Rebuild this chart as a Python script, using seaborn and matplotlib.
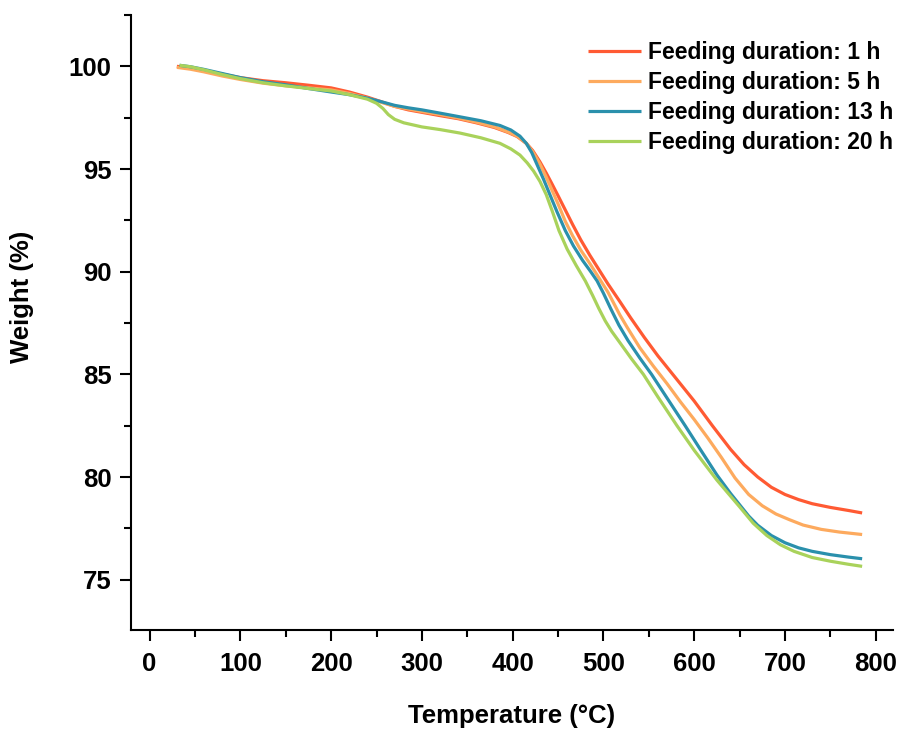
import matplotlib
matplotlib.use("Agg")
import matplotlib.pyplot as plt
import seaborn as sns
import pandas as pd
from matplotlib.ticker import MultipleLocator

# ---- data ----
labels = ["Feeding duration: 1 h", "Feeding duration: 5 h",
          "Feeding duration: 13 h", "Feeding duration: 20 h"]
colors = ["#FF5A33", "#FDAA5E", "#2A90AC", "#A9D25B"]

t_1h = [30, 45, 60, 80, 100, 125, 150, 175, 200, 220, 240, 255, 270, 285, 300, 320, 340, 360, 380,
        395, 405, 415, 422, 430, 437, 443, 450, 458, 466, 475, 485, 495, 505, 518, 530, 545, 560,
        580, 600, 620, 640, 655, 670, 685, 700, 715, 730, 750, 770, 785]
w_1h = [100.0, 99.92, 99.8, 99.62, 99.45, 99.3, 99.2, 99.08, 98.95, 98.75, 98.5, 98.28, 98.05,
        97.88, 97.76, 97.6, 97.45, 97.25, 97.02, 96.78, 96.58, 96.25, 95.9, 95.35, 94.8, 94.3,
        93.7, 93.0, 92.3, 91.55, 90.8, 90.1, 89.4, 88.55, 87.75, 86.8, 85.9, 84.8, 83.7, 82.5,
        81.35, 80.6, 80.0, 79.5, 79.15, 78.9, 78.7, 78.52, 78.37, 78.25]

t_5h = [30, 45, 60, 80, 100, 125, 150, 175, 200, 220, 240, 255, 270, 285, 300, 320, 340, 360, 380,
        395, 405, 415, 422, 430, 437, 443, 450, 458, 466, 475, 485, 495, 505, 518, 526, 540, 555,
        570, 585, 600, 615, 630, 645, 660, 675, 690, 705, 720, 740, 760, 785]
w_5h = [99.95, 99.86, 99.73, 99.53, 99.36, 99.18, 99.05, 98.95, 98.85, 98.68, 98.45, 98.25, 98.05,
        97.92, 97.8, 97.65, 97.48, 97.28, 97.05, 96.8, 96.6, 96.25, 95.85, 95.25, 94.6, 94.0,
        93.3, 92.45, 91.75, 91.05, 90.4, 89.7, 89.0, 87.9, 87.3, 86.3, 85.4, 84.55, 83.65, 82.8,
        81.9, 80.95, 79.95, 79.15, 78.6, 78.2, 77.92, 77.66, 77.45, 77.32, 77.2]

t_13h = [33, 45, 60, 80, 100, 125, 150, 175, 200, 220, 240, 255, 270, 285, 300, 320, 342, 365, 386,
         398, 408, 415, 421, 427, 434, 441, 449, 458, 467, 477, 486, 493, 500, 508, 517, 527, 540,
         553, 570, 590, 606.5, 625, 640, 650, 660, 670, 685, 700, 715, 730, 750, 770, 785]
w_13h = [100.05, 99.98, 99.85, 99.65, 99.45, 99.25, 99.1, 98.92, 98.75, 98.62, 98.45, 98.28, 98.1,
         97.98, 97.88, 97.72, 97.54, 97.35, 97.12, 96.9, 96.6, 96.25, 95.8, 95.2, 94.5, 93.75,
         92.9, 92.0, 91.25, 90.55, 90.0, 89.55, 88.95, 88.2, 87.4, 86.65, 85.8, 85.0, 83.85,
         82.5, 81.36, 80.1, 79.2, 78.65, 78.1, 77.65, 77.15, 76.8, 76.55, 76.38, 76.22, 76.1, 76.02]

t_20h = [33, 45, 60, 80, 100, 125, 150, 175, 200, 220, 240, 250, 257, 263, 270, 280, 300, 320, 342,
         365, 386, 398, 408, 416, 423, 430, 437, 444, 451, 460, 470, 480, 488, 495, 502, 509, 518,
         531, 544, 560, 581, 600, 625, 650, 665, 680, 695, 710, 730, 750, 770, 785]
w_20h = [100.05, 99.98, 99.83, 99.6, 99.4, 99.2, 99.05, 98.92, 98.8, 98.62, 98.4, 98.2, 97.95,
         97.65, 97.42, 97.25, 97.05, 96.92, 96.75, 96.52, 96.25, 95.98, 95.68, 95.3, 94.9, 94.4,
         93.75, 92.9, 92.0, 91.1, 90.3, 89.55, 88.85, 88.2, 87.6, 87.1, 86.55, 85.75, 85.0, 83.9,
         82.5, 81.3, 79.85, 78.55, 77.75, 77.15, 76.7, 76.38, 76.08, 75.9, 75.75, 75.65]

x_ticks = [0, 100, 200, 300, 400, 500, 600, 700, 800]
y_ticks = [75, 80, 85, 90, 95, 100]

frames = []
for lab, t, w in zip(labels, [t_1h, t_5h, t_13h, t_20h], [w_1h, w_5h, w_13h, w_20h]):
    frames.append(pd.DataFrame({"Temperature": t, "Weight": w, "Sample": lab}))
df = pd.concat(frames, ignore_index=True)

sns.set_style("ticks")
plt.rcParams["font.family"] = ["Liberation Sans", "DejaVu Sans"]
plt.rcParams["font.weight"] = "bold"
for k in ["text.color", "axes.labelcolor", "xtick.color", "ytick.color", "axes.edgecolor"]:
    plt.rcParams[k] = "black"

fig = plt.figure(figsize=(9.01, 7.29), dpi=100)
ax = fig.add_axes([131 / 901, 1 - 630 / 729, (893 - 131) / 901, (630 - 15) / 729])

sns.lineplot(data=df, x="Temperature", y="Weight", hue="Sample", hue_order=labels,
             palette=colors, linewidth=2.3, sort=False, estimator=None, ax=ax)
for ln in ax.get_lines():
    ln.set_solid_joinstyle("round")
    ln.set_solid_capstyle("butt")

ax.set_xlim(-20.5, 819)
ax.set_ylim(72.55, 102.5)
ax.set_xticks(x_ticks)
ax.set_yticks(y_ticks)
ax.xaxis.set_minor_locator(MultipleLocator(50))
ax.yaxis.set_minor_locator(MultipleLocator(2.5))
ax.tick_params(which="major", direction="out", length=8, width=1.5, labelsize=18.5)
ax.tick_params(axis="x", which="major", pad=8)
ax.tick_params(axis="y", which="major", pad=6)
ax.tick_params(which="minor", direction="out", length=5, width=1.5)
for lab in ax.get_xticklabels() + ax.get_yticklabels():
    lab.set_fontweight("bold")

for s in ["top", "right"]:
    ax.spines[s].set_visible(False)
for s in ["left", "bottom"]:
    ax.spines[s].set_linewidth(1.5)
    ax.spines[s].set_color("black")

ax.set_xlabel("Temperature (°C)", fontsize=18.5, fontweight="bold")
ax.set_ylabel("Weight (%)", fontsize=18.5, fontweight="bold")
ax.xaxis.set_label_coords((512 - 131) / (893 - 131), -(716 - 630) / (630 - 15))
ax.yaxis.set_label_coords(-(131 - 22) / (893 - 131), (630 - 297) / (630 - 15))
ax.xaxis.label.set_va("center")
ax.yaxis.label.set_va("center")

leg = ax.legend(loc="upper left", bbox_to_anchor=(588 / 901, 1 - 41 / 729),
                bbox_transform=fig.transFigure, frameon=False,
                fontsize=16.5, handlelength=2.3, handletextpad=0.3, labelspacing=0.3,
                borderpad=0, borderaxespad=0)
for txt in leg.get_texts():
    txt.set_fontweight("bold")
for line in leg.get_lines():
    line.set_linewidth(2.3)

fig.savefig("out.png", dpi=100)
